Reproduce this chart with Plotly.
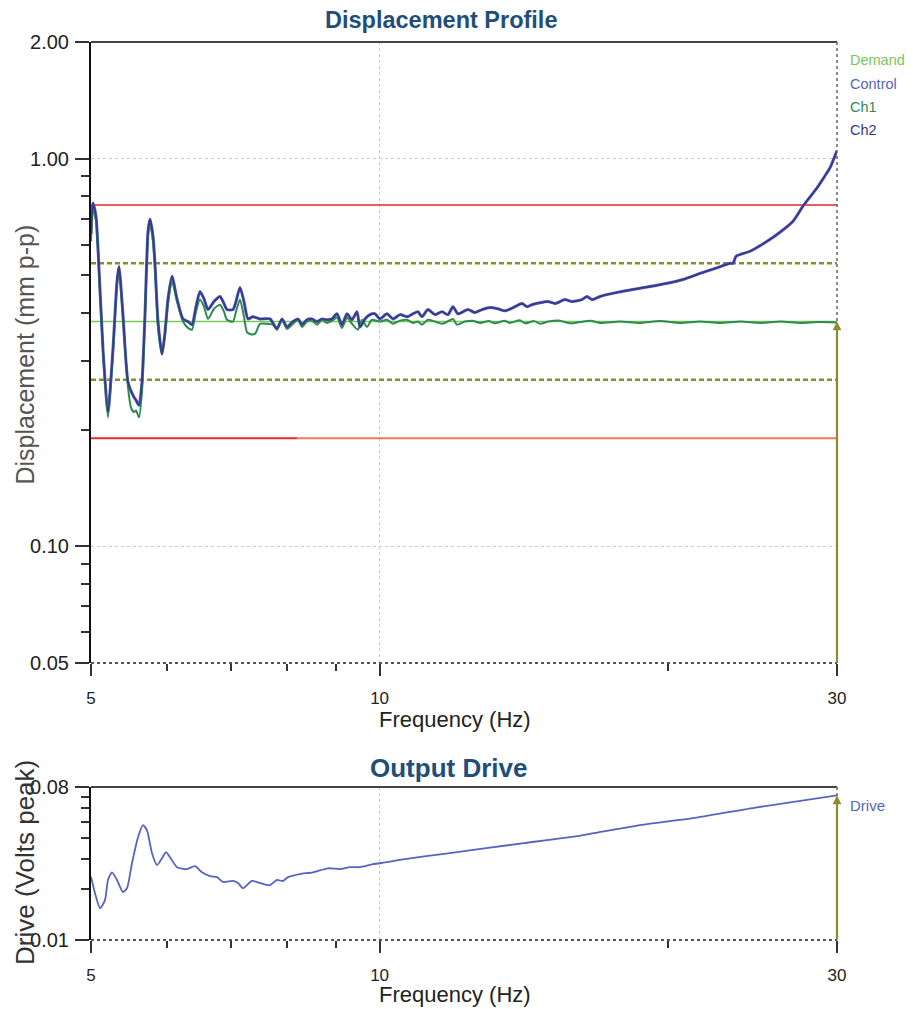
import math
import plotly.graph_objects as go

# ---------------- data ----------------
ch2_freq = [5.000, 5.024, 5.060, 5.085, 5.146, 5.208, 5.271, 5.322, 5.348, 5.399, 5.465, 5.531, 5.571, 5.611,
            5.651, 5.692, 5.734, 5.761, 5.803, 5.831, 5.873, 5.930, 5.973, 6.016, 6.074, 6.147, 6.236, 6.311,
            6.372, 6.434, 6.496, 6.559, 6.622, 6.718, 6.816, 6.881, 6.931, 7.032, 7.083, 7.151, 7.220, 7.290,
            7.378, 7.503, 7.685, 7.815, 7.910, 8.005, 8.122, 8.220, 8.299, 8.399, 8.501, 8.603, 8.707, 8.813,
            8.919, 9.027, 9.136, 9.246, 9.358, 9.471, 9.540, 9.655, 9.771, 9.889, 10.009, 10.179, 10.326,
            10.501, 10.680, 10.835, 10.965, 11.071, 11.232, 11.423, 11.617, 11.785, 11.927, 12.071, 12.365,
            12.574, 12.788, 13.038, 13.289, 13.514, 13.842, 14.077, 14.250, 14.419, 14.699, 14.984, 15.240,
            15.608, 15.873, 16.259, 16.455, 16.657, 16.977, 17.69, 18.378, 19.15, 19.948, 20.73, 21.593,
            22.39, 23.207, 23.374, 23.543, 24.35, 25.363, 26.16, 26.996, 27.653, 28.12, 28.598, 29.01,
            29.506, 30.000]
ch2_disp = [0.639, 0.769, 0.711, 0.587, 0.323, 0.222, 0.323, 0.482, 0.527, 0.396, 0.265, 0.245, 0.238, 0.231,
            0.265, 0.396, 0.650, 0.698, 0.631, 0.534, 0.380, 0.313, 0.357, 0.435, 0.497, 0.435, 0.386, 0.380,
            0.373, 0.415, 0.454, 0.435, 0.408, 0.428, 0.441, 0.423, 0.408, 0.408, 0.428, 0.465, 0.428, 0.386,
            0.391, 0.386, 0.386, 0.364, 0.386, 0.368, 0.380, 0.386, 0.373, 0.384, 0.386, 0.380, 0.386, 0.384,
            0.386, 0.398, 0.373, 0.398, 0.384, 0.403, 0.368, 0.386, 0.396, 0.398, 0.386, 0.398, 0.386,
            0.396, 0.391, 0.398, 0.403, 0.391, 0.408, 0.396, 0.403, 0.396, 0.415, 0.398, 0.408,
            0.401, 0.408, 0.413, 0.410, 0.405, 0.415, 0.423, 0.415, 0.420, 0.425, 0.428, 0.423,
            0.433, 0.428, 0.433, 0.441, 0.433, 0.441, 0.452, 0.460, 0.468, 0.477, 0.488, 0.506,
            0.521, 0.537, 0.537, 0.560, 0.577, 0.612, 0.646, 0.690, 0.755, 0.797, 0.841, 0.887,
            0.948, 1.049]

ch1_freq = [5.000, 5.024, 5.060, 5.085, 5.146, 5.208, 5.271, 5.322, 5.348, 5.399, 5.465, 5.504, 5.544, 5.571,
            5.611, 5.651, 5.692, 5.734, 5.761, 5.803, 5.831, 5.873, 5.930, 5.973, 6.016, 6.074, 6.147, 6.236,
            6.311, 6.372, 6.434, 6.496, 6.559, 6.622, 6.718, 6.816, 6.881, 6.931, 7.032, 7.083, 7.151, 7.220,
            7.272, 7.325, 7.413, 7.503, 7.630, 7.741, 7.815, 7.910, 8.005, 8.122, 8.220, 8.299, 8.399, 8.501,
            8.603, 8.707, 8.813, 8.919, 9.027, 9.136, 9.246, 9.358, 9.494, 9.586, 9.701, 9.818, 10.009, 10.179,
            10.326, 10.501, 10.680, 10.835, 10.965, 11.071, 11.232, 11.423, 11.617, 11.700, 11.927, 12.042,
            12.276, 12.5, 12.727, 13.0, 13.193, 13.5, 13.677, 14.0, 14.179, 14.5, 14.699, 15.0, 15.422, 15.8,
            16.181, 16.6, 16.977, 17.8, 18.689, 19.6, 20.581, 21.6, 22.656, 23.8, 24.940, 26.2, 27.454, 28.7,
            30.000]
ch1_disp = [0.612, 0.746, 0.690, 0.570, 0.317, 0.215, 0.317, 0.468, 0.518, 0.386, 0.257, 0.228, 0.222, 0.224,
            0.215, 0.250, 0.386, 0.631, 0.682, 0.612, 0.518, 0.368, 0.313, 0.351, 0.423, 0.482, 0.428, 0.380,
            0.366, 0.362, 0.403, 0.433, 0.415, 0.386, 0.410, 0.420, 0.403, 0.384, 0.380, 0.403, 0.433, 0.391,
            0.357, 0.353, 0.353, 0.375, 0.375, 0.373, 0.362, 0.384, 0.364, 0.375, 0.384, 0.368, 0.380, 0.382,
            0.373, 0.384, 0.377, 0.382, 0.389, 0.366, 0.389, 0.375, 0.362, 0.384, 0.368, 0.384, 0.380, 0.384,
            0.375, 0.382, 0.384, 0.377, 0.380, 0.373, 0.384, 0.380, 0.375, 0.377, 0.386, 0.373,
            0.380, 0.382, 0.377, 0.381, 0.376, 0.382, 0.377, 0.383, 0.376, 0.381, 0.375, 0.380, 0.382, 0.376,
            0.379, 0.382, 0.377, 0.380, 0.377, 0.381, 0.377, 0.380, 0.377, 0.380, 0.377, 0.380, 0.377, 0.379,
            0.378]

drive_freq = [5.000, 5.048, 5.109, 5.171, 5.208, 5.259, 5.322, 5.399, 5.451, 5.517, 5.598, 5.665, 5.720,
              5.789, 5.859, 5.930, 5.987, 6.045, 6.147, 6.297, 6.418, 6.527, 6.654, 6.767, 6.865, 7.032,
              7.117, 7.203, 7.360, 7.503, 7.685, 7.815, 7.929, 8.025, 8.256, 8.521, 8.834, 9.090, 9.311,
              9.538, 9.842, 10.179, 10.451, 11.785, 14.144, 16.259, 18.689, 21.49, 24.761, 30.0]
drive_volts = [0.0236, 0.0189, 0.0154, 0.0172, 0.0226, 0.0251, 0.0226, 0.0192, 0.0202, 0.0284, 0.0404,
               0.0476, 0.0444, 0.0325, 0.0277, 0.0304, 0.0330, 0.0308, 0.0269, 0.0262, 0.0273, 0.0251,
               0.0238, 0.0235, 0.0220, 0.0223, 0.0217, 0.0202, 0.0223, 0.0217, 0.0211, 0.0226, 0.0223,
               0.0235, 0.0245, 0.0251, 0.0265, 0.0262, 0.0269, 0.0269, 0.0280, 0.0288, 0.0296, 0.0325,
               0.0373, 0.0415, 0.0476, 0.0530, 0.0607, 0.0714]

ref_freq = [5.0, 30.0]
demand_level = [0.38, 0.38]
alarm_high = [0.537, 0.537]
alarm_low = [0.269, 0.269]
abort_high = [0.76, 0.76]
abort_low = [0.19, 0.19]
abort_low_freq_a = [5.0, 8.2]
abort_low_freq_b = [8.2, 30.0]

x_major = [5, 10, 30]
x_major_text = ["5", "10", "30"]
x_minor = [6, 7, 8, 9, 20]
y1_major = [0.05, 0.1, 1, 2]
y1_major_text = ["0.05", "0.10", "1.00", "2.00"]
y1_minor = [0.06, 0.07, 0.08, 0.09, 0.2, 0.3, 0.4, 0.5, 0.6, 0.7, 0.8, 0.9]
y2_major = [0.01, 0.08]
y2_major_text = ["0.01", "0.08"]
y2_minor = [0.02, 0.03, 0.04, 0.05, 0.06, 0.07]

# ---------------- styling ----------------
FONT = "Liberation Sans, Arial, sans-serif"
C_TITLE = "#1f4e79"
C_CH2 = "#38388c"
C_CH1 = "#2e8b50"
C_CONTROL = "#5a64bc"
C_DEMAND = "#7cc65a"
C_RED = "#f05a5a"
C_RED2 = "#e8282c"
C_ORANGE = "#f27a5a"
C_OLIVE = "#8c8c2c"
C_DRIVE = "#5664c0"

fig = go.Figure()

def line(x, y, color, width, dash="solid", xa="x", ya="y", shape="linear"):
    fig.add_trace(go.Scatter(x=x, y=y, mode="lines", xaxis=xa, yaxis=ya,
                             line=dict(color=color, width=width, dash=dash, shape=shape,
                                       smoothing=0.6 if shape == "spline" else None),
                             hoverinfo="skip", showlegend=False))

line(ref_freq, abort_high, C_RED, 2)
line(abort_low_freq_a, abort_low, C_RED2, 2)
line(abort_low_freq_b, abort_low, C_ORANGE, 2)
line(ref_freq, alarm_high, C_OLIVE, 2.5, "5px,3px")
line(ref_freq, alarm_low, C_OLIVE, 2.5, "5px,3px")
line(ref_freq, demand_level, C_DEMAND, 1.6)
line(ch2_freq, ch2_disp, C_CONTROL, 3, shape="spline")
line(ch1_freq, ch1_disp, C_CH1, 2, shape="spline")
line(ch2_freq, ch2_disp, C_CH2, 1.8, shape="spline")
line(drive_freq, drive_volts, C_DRIVE, 1.8, xa="x2", ya="y2", shape="spline")

xcommon = dict(type="log", range=[math.log10(5), math.log10(30)],
               tickmode="array", tickvals=x_major, ticktext=x_major_text,
               ticks="outside", ticklen=12, tickwidth=1.5, tickcolor="#333",
               tickfont=dict(family=FONT, size=17, color="#222"),
               ticklabelstandoff=8,
               showgrid=True, gridcolor="#c8c8c8", gridwidth=1, griddash="dot",
               showline=False, zeroline=False,
               minor=dict(tickvals=x_minor, ticks="outside", ticklen=7, tickwidth=1.5,
                          tickcolor="#333", showgrid=False))

# the page body adds an 8px offset; margins compensate so the plot area sits at 91..837 x 42..940
fig.update_layout(
    width=905, height=1001, autosize=False,
    margin=dict(l=83, r=76, t=34, b=69),
    paper_bgcolor="white", plot_bgcolor="white",
    showlegend=False,
    xaxis=dict(anchor="y", **xcommon),
    xaxis2=dict(anchor="y2", **xcommon),
    yaxis=dict(type="log", domain=[0.3085, 1.0], range=[math.log10(0.05), math.log10(2)],
               tickmode="array", tickvals=y1_major, ticktext=y1_major_text,
               ticks="outside", ticklen=14, tickwidth=1.5, tickcolor="#333",
               tickfont=dict(family=FONT, size=20, color="#222"), ticklabelstandoff=2,
               showline=True, linecolor="#111", linewidth=2,
               showgrid=True, gridcolor="#c8c8c8", gridwidth=1, griddash="dot", zeroline=False,
               minor=dict(tickvals=y1_minor, ticks="outside", ticklen=8, tickwidth=1.5,
                          tickcolor="#333", showgrid=False)),
    yaxis2=dict(type="log", domain=[0.0, 0.1704], range=[math.log10(0.01), math.log10(0.08)],
                tickmode="array", tickvals=y2_major, ticktext=y2_major_text,
                ticks="outside", ticklen=14, tickwidth=1.5, tickcolor="#333",
                tickfont=dict(family=FONT, size=20, color="#222"), ticklabelstandoff=2,
                showline=True, linecolor="#111", linewidth=2,
                showgrid=False, zeroline=False,
                minor=dict(tickvals=y2_minor, ticks="outside", ticklen=8, tickwidth=1.5,
                           tickcolor="#333", showgrid=False)),
)

# borders
for xd, yd in (("x domain", "y domain"), ("x2 domain", "y2 domain")):
    fig.add_shape(type="line", xref=xd, yref=yd, x0=0, x1=1, y0=1, y1=1,
                  line=dict(color="#444", width=2))
    fig.add_shape(type="line", xref=xd, yref=yd, x0=0, x1=1, y0=0, y1=0,
                  line=dict(color="#555", width=2, dash="dot"))
    fig.add_shape(type="line", xref=xd, yref=yd, x0=1, x1=1, y0=0, y1=1,
                  line=dict(color="#666", width=1.5, dash="dot"))

ann = []
def text(x, y, s, size, color, bold=False, xanchor="center", angle=0):
    ann.append(dict(xref="paper", yref="paper", x=x, y=y, text=("<b>%s</b>" % s) if bold else s,
                    showarrow=False, xanchor=xanchor, yanchor="middle", textangle=angle,
                    font=dict(family=FONT, size=size, color=color)))

text(0.469, 1.0245, "Displacement Profile", 23.5, C_TITLE, bold=True)
text(0.4786, 0.1915, "Output Drive", 26, C_TITLE, bold=True)
text(0.488, 0.2450, "Frequency (Hz)", 22, "#222")
text(0.488, -0.0605, "Frequency (Hz)", 22, "#222")
text(-0.0898, 0.652, "Displacement (mm p-p)", 25, "#555", angle=-90)
text(-0.0885, 0.0869, "Drive (Volts peak)", 26, "#333", angle=-90)
text(1.0147, 0.980, "Demand", 14.5, C_DEMAND, xanchor="left")
text(1.0147, 0.9532, "Control", 14.5, C_CONTROL, xanchor="left")
text(1.0147, 0.9276, "Ch1", 14.5, C_CH1, xanchor="left")
text(1.0147, 0.902, "Ch2", 14.5, C_CH2, xanchor="left")
text(1.0147, 0.1503, "Drive", 15, C_DRIVE, xanchor="left")

# cursor arrows at 30 Hz
ann.append(dict(xref="x", yref="y", axref="x", ayref="y",
                x=math.log10(ref_freq[-1]), y=math.log10(demand_level[-1]),
                ax=math.log10(ref_freq[-1]), ay=math.log10(0.05),
                showarrow=True, arrowhead=2, arrowsize=0.8, arrowwidth=2.2,
                arrowcolor=C_OLIVE, text=""))
ann.append(dict(xref="x2", yref="y2", axref="x2", ayref="y2",
                x=math.log10(drive_freq[-1]), y=math.log10(drive_volts[-1]),
                ax=math.log10(drive_freq[-1]), ay=math.log10(0.01),
                showarrow=True, arrowhead=2, arrowsize=0.8, arrowwidth=2.2,
                arrowcolor=C_OLIVE, text=""))
fig.update_layout(annotations=ann)

fig.write_html("out.html")
